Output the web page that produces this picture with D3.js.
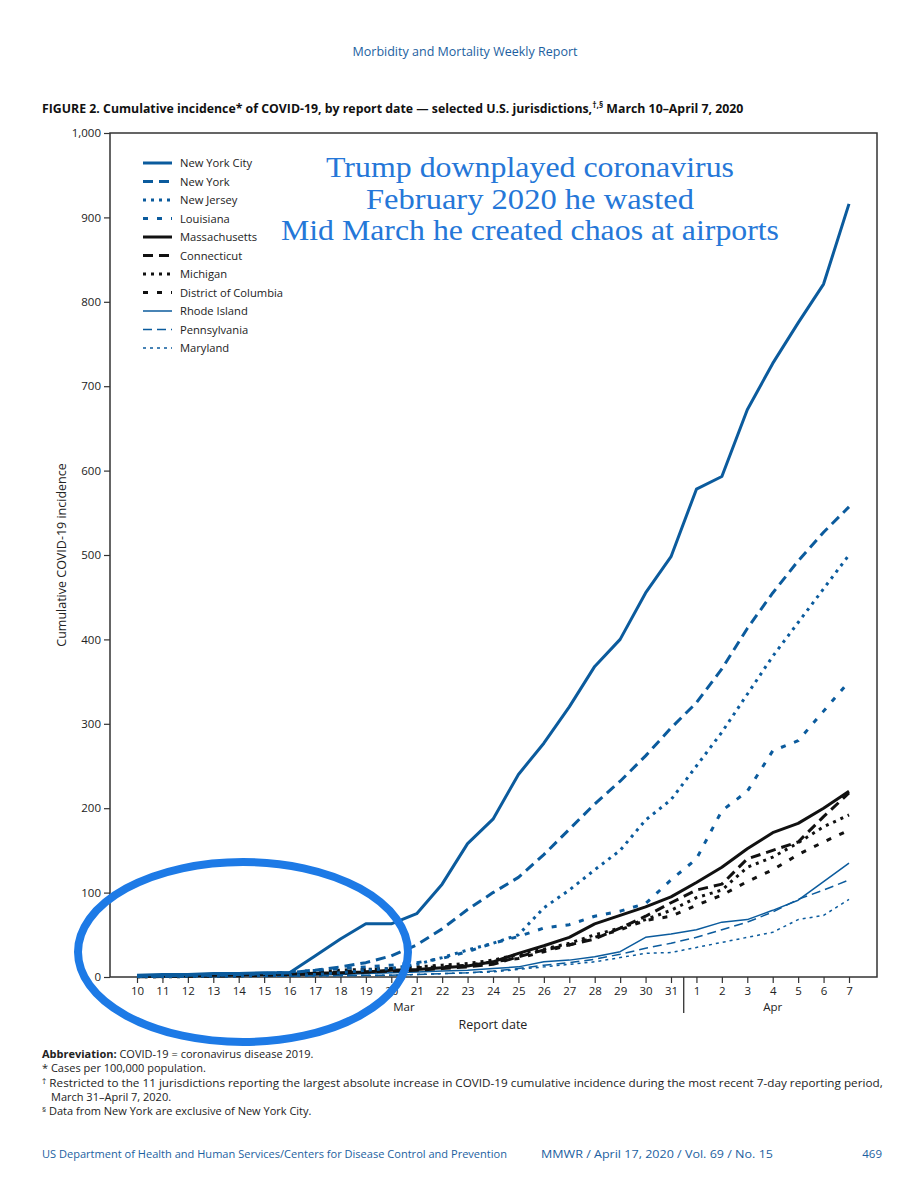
<!DOCTYPE html>
<html><head><meta charset="utf-8">
<script src="https://cdn.jsdelivr.net/npm/d3@7"></script>
<style>
html,body{margin:0;padding:0;background:#fff;}
svg{display:block;}
text{font-family:"Open Sans","Noto Sans",sans-serif;}
</style></head>
<body>
<script>
// ---- data ----
const dates = ["10","11","12","13","14","15","16","17","18","19","20","21","22","23","24","25","26","27","28","29","30","31","1","2","3","4","5","6","7"];
const months = ["Mar","Apr"];
const yTicks = [0,100,200,300,400,500,600,700,800,900,1000];

const newYorkCity   = [2,3,3,4,4,5,5,25,45,63,63,75,110,158,187,240,277,320,368,400,455,498,578,593,672,727,775,821,916];
const newYork       = [1,1,2,2,3,4,5,8,12,17,25,38,57,80,100,118,145,175,205,232,262,295,325,365,413,455,493,527,557];
const newJersey     = [0.5,0.5,1,1,1,1.5,2,3,5,8,10,15,23,32,40,50,82,103,127,150,186,210,250,290,335,380,420,460,500];
const louisiana     = [0.5,1,1,2,3,4,6,8,10,12,14,17,22,30,40,48,58,62,72,78,87,115,140,197,220,268,280,315,350];
const massachusetts = [0.5,1,1.5,2,2.5,3,3.5,4.5,5,6,8,9,11,13,18,28,37,47,63,73,83,95,112,130,152,171,182,200,220];
const connecticut   = [0.3,0.5,1,1,1.5,2,3,3.5,4.5,6,7,8,10,12,15,24,32,38,45,58,72,88,103,110,140,150,160,190,218];
const michigan      = [0.2,0.3,0.5,1,1.5,3,5,6,8,9,10,12,14,16,20,27,33,40,50,58,68,79,94,103,130,142,159,178,192];
const districtOfColumbia = [1,1,2,2,3,3.5,4,5,6,9,10,11,12,14,18,22,30,38,47,56,67,72,85,97,113,127,145,160,174];
const rhodeIsland   = [0.5,0.5,1,1,1.5,2,2,2.5,3,4,5,6,7,8,10,12,18,20,24,30,47,51,56,65,68,79,91,113,135];
const pennsylvania  = [0.2,0.3,0.5,0.7,1,1,1.2,1.5,1.8,2,2,3,4,5,7,10,14,17,21,27,34,40,47,56,65,77,92,103,115];
const maryland      = [0.2,0.3,0.5,0.6,0.8,1,1,1.2,1.5,1.8,2,3,4,5,6,9,12,15,18,23,28,29,35,41,47,53,68,73,92];

const seriesNames = ["New York City","New York","New Jersey","Louisiana","Massachusetts","Connecticut","Michigan","District of Columbia","Rhode Island","Pennsylvania","Maryland"];
const seriesValues = [newYorkCity,newYork,newJersey,louisiana,massachusetts,connecticut,michigan,districtOfColumbia,rhodeIsland,pennsylvania,maryland];

const BLUE = "#0b5b9d", BLACK = "#111";
const styles = [
  {c:BLUE, w:3, d:null},
  {c:BLUE, w:3, d:"10,6"},
  {c:BLUE, w:3, d:"3,5"},
  {c:BLUE, w:3, d:"5,9"},
  {c:BLACK, w:3, d:null},
  {c:BLACK, w:3, d:"10,6"},
  {c:BLACK, w:3, d:"3,5"},
  {c:BLACK, w:3, d:"5,9"},
  {c:BLUE, w:1.5, d:null},
  {c:BLUE, w:1.5, d:"9,5"},
  {c:BLUE, w:1.5, d:"3,4"}
];

const W = 918, H = 1200;
const svg = d3.select("body").append("svg").attr("width",W).attr("height",H);

function fitWidth(sel, x0, width){
  const len = sel.node().getComputedTextLength();
  if (len > 0) sel.attr("transform", `translate(${x0},0) scale(${width/len},1) translate(${-x0},0)`);
}

// header
svg.append("text").attr("x",465).attr("y",56).attr("text-anchor","middle")
  .attr("fill","#1c5f9f").style("font-size","13.5px").attr("textLength",225).attr("lengthAdjust","spacingAndGlyphs")
  .text("Morbidity and Mortality Weekly Report");

// title
const title = svg.append("text").attr("x",42).attr("y",113).attr("fill","#111")
  .style("font-size","13px").style("font-weight","bold");
title.append("tspan").text("FIGURE 2. Cumulative incidence* of COVID-19, by report date — selected U.S. jurisdictions,");
title.append("tspan").attr("dy",-5).style("font-size","9px").text("†,§");
title.append("tspan").attr("dy",5).text(" March 10–April 7, 2020");
fitWidth(title, 42, 702);

// plot frame
const L = 110, R = 877, T = 133, B = 977;
const x = d3.scalePoint().domain(d3.range(dates.length)).range([137,849]);
const y = d3.scaleLinear().domain([0,1000]).range([B,T]);

svg.append("rect").attr("x",L).attr("y",T).attr("width",R-L).attr("height",B-T)
  .attr("fill","none").attr("stroke","#333").attr("stroke-width",1.5);

// y axis
const yAxis = svg.append("g").attr("transform",`translate(${L},0)`)
  .call(d3.axisLeft(y).tickValues(yTicks).tickSize(6).tickPadding(3).tickFormat(d3.format(",")));
yAxis.select(".domain").remove();
yAxis.selectAll("line").attr("stroke","#333").attr("stroke-width",1.2);
yAxis.selectAll("text").attr("fill","#222").style("font-size","11.5px").style("font-family","'Open Sans',sans-serif");

svg.append("text").attr("transform","translate(66,555) rotate(-90)").attr("text-anchor","middle")
  .attr("fill","#222").style("font-size","12.5px").text("Cumulative COVID-19 incidence");

// x axis
const xAxis = svg.append("g").attr("transform",`translate(0,${B})`)
  .call(d3.axisBottom(x).tickSize(6).tickPadding(4).tickFormat(i=>dates[i]));
xAxis.select(".domain").remove();
xAxis.selectAll("line").attr("stroke","#333").attr("stroke-width",1.2);
xAxis.selectAll("text").attr("fill","#222").style("font-size","11.5px");

// month separator
const sepX = (x(21)+x(22))/2;
svg.append("line").attr("x1",sepX).attr("x2",sepX).attr("y1",B).attr("y2",B+36).attr("stroke","#333").attr("stroke-width",1.3);
svg.append("text").attr("x",(x(0)+x(21))/2).attr("y",B+34).attr("text-anchor","middle").attr("fill","#222").style("font-size","11.5px").text(months[0]);
svg.append("text").attr("x",(x(22)+x(28))/2).attr("y",B+34).attr("text-anchor","middle").attr("fill","#222").style("font-size","11.5px").text(months[1]);
svg.append("text").attr("x",493).attr("y",B+52).attr("text-anchor","middle").attr("fill","#222").style("font-size","12.5px").text("Report date");

// lines (draw thin first, then thick)
const line = d3.line().x((d,i)=>x(i)).y(d=>y(d));
const order = [10,9,8,7,6,5,4,3,2,1,0];
order.forEach(k=>{
  const s = styles[k];
  svg.append("path").datum(seriesValues[k]).attr("d",line)
    .attr("fill","none").attr("stroke",s.c).attr("stroke-width",s.w)
    .attr("stroke-dasharray",s.d).attr("stroke-linejoin","round");
});

// legend
seriesNames.forEach((n,i)=>{
  const s = styles[i];
  const yy = 163 + i*18.5;
  svg.append("line").attr("x1",143).attr("x2",172).attr("y1",yy).attr("y2",yy)
    .attr("stroke",s.c).attr("stroke-width",s.w).attr("stroke-dasharray",s.d ? s.d : null);
  svg.append("text").attr("x",180).attr("y",yy+4).attr("fill","#222").style("font-size","11.2px").text(n);
});

// annotation
const ann = ["Trump downplayed coronavirus","February 2020 he wasted","Mid March he created chaos at airports"];
const annW = [408,328,498];
ann.forEach((t,i)=>{
  svg.append("text").attr("x",530).attr("y",177+i*31.5).attr("text-anchor","middle")
    .attr("fill","#2577d8").style("font-family","'Liberation Serif','DejaVu Serif',serif").style("font-size","29px")
    .attr("textLength",annW[i]).attr("lengthAdjust","spacingAndGlyphs").text(t);
});

// ellipse
svg.append("ellipse").attr("cx",243).attr("cy",952).attr("rx",165).attr("ry",90)
  .attr("fill","none").attr("stroke","#1d7ae6").attr("stroke-width",8);

// footnotes
const fn = svg.append("g").attr("fill","#222").style("font-size","11px");
const a = fn.append("text").attr("x",42).attr("y",1058);
a.append("tspan").style("font-weight","bold").text("Abbreviation: ");
a.append("tspan").text("COVID-19 = coronavirus disease 2019.");
fn.append("text").attr("x",42).attr("y",1072).text("* Cases per 100,000 population.");
const r = fn.append("text").attr("x",42).attr("y",1087);
r.append("tspan").style("font-size","8px").attr("dy",-3).text("†");
r.append("tspan").attr("dy",3).text(" Restricted to the 11 jurisdictions reporting the largest absolute increase in COVID-19 cumulative incidence during the most recent 7-day reporting period,");
fitWidth(r, 42, 841);
fn.append("text").attr("x",51).attr("y",1101).text("March 31–April 7, 2020.");
const s3 = fn.append("text").attr("x",42).attr("y",1115);
s3.append("tspan").style("font-size","8px").attr("dy",-3).text("§");
s3.append("tspan").attr("dy",3).text(" Data from New York are exclusive of New York City.");

// footer
const ft = svg.append("g").attr("fill","#1c5f9f").style("font-size","11.5px");
ft.append("text").attr("x",42).attr("y",1158).attr("textLength",465).attr("lengthAdjust","spacingAndGlyphs")
  .text("US Department of Health and Human Services/Centers for Disease Control and Prevention");
ft.append("text").attr("x",541).attr("y",1158).attr("textLength",232).attr("lengthAdjust","spacingAndGlyphs")
  .text("MMWR  /  April 17, 2020  /  Vol. 69  /  No. 15");
ft.append("text").attr("x",882).attr("y",1158).attr("text-anchor","end").text("469");
</script>
</body></html>
